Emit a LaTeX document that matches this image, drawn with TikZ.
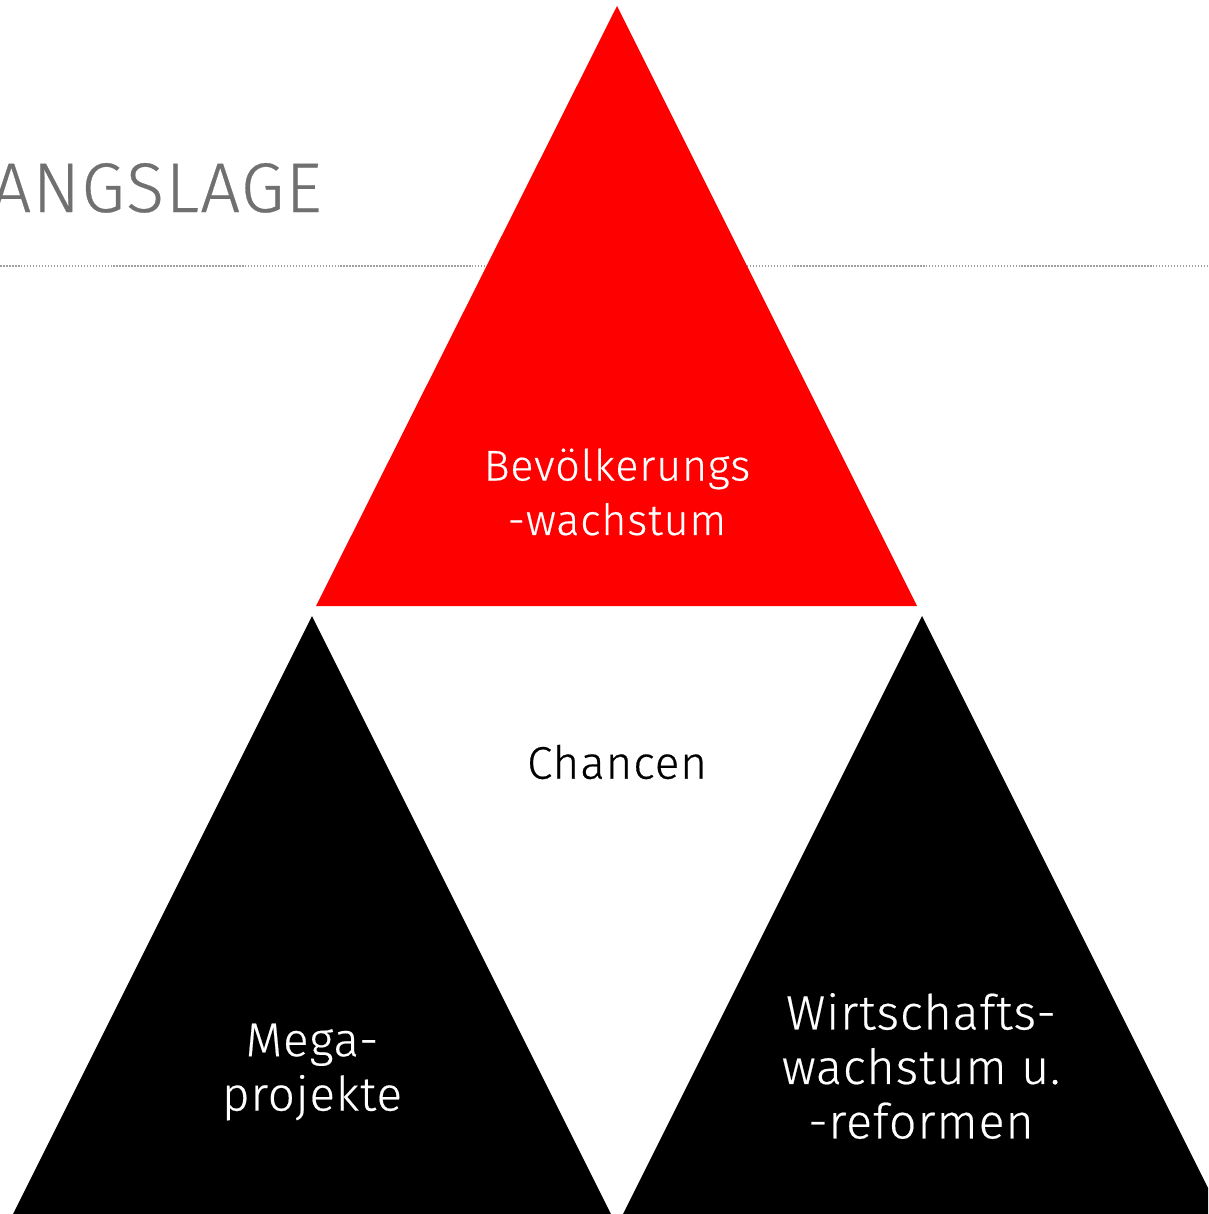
\documentclass[tikz,border=0pt]{standalone}
\usepackage{fontspec}
\setmainfont{Fira Sans}[UprightFont=* Light,LetterSpace=2,FakeBold=0.4]
\usepackage{tikz}
\usetikzlibrary{positioning}
\definecolor{slidered}{HTML}{FF0000}
\definecolor{titlegray}{HTML}{707070}
\definecolor{rulegray}{HTML}{A0A0A0}
\tikzset{
  redtri/.style={fill=slidered},
  blacktri/.style={fill=black},
  rule/.style={rulegray,line width=1pt,dash pattern=on 0.9pt off 0.8pt},
  label/.style={align=center,inner sep=0pt},
  every node/.style={font=\fontsize{24.5}{31}\selectfont}
}

\begin{document}
\begin{tikzpicture}[x=0.02cm,y=-0.02cm]
  \useasboundingbox (0,0) rectangle (1208,1214);
  \clip (0,0) rectangle (1208,1214);
  % heading and rule
  \node[anchor=base east,inner sep=0pt,titlegray,
        font=\fontsize{40}{48}\selectfont] (heading) at (322,212) {ANGSLAGE};
  \draw[rule] (0,266) -- (1208,266);
  % triangles
  \fill[redtri] (617,6) -- (917,606) -- (316,606) -- cycle;
  \fill[blacktri] (312,616) -- (611,1214) -- (13,1214) -- cycle;
  \fill[blacktri] (922,616) -- (1221,1214) -- (623,1214) -- cycle;
  % labels
  \node[label,white] (growth) at (617,492) {Bevölkerungs\\-wachstum};
  \node[label,font=\fontsize{26}{31}\selectfont] (chances) at (617,762) {Chancen};
  \node[label,white,font=\fontsize{27}{31}\selectfont] (mega) at (312,1072)
    {Mega-\\projekte};
  \node[label,white,font=\fontsize{27.5}{31}\selectfont] (economy) at (921,1066)
    {Wirtschafts-\\wachstum u.\\-reformen};
\end{tikzpicture}
\end{document}
